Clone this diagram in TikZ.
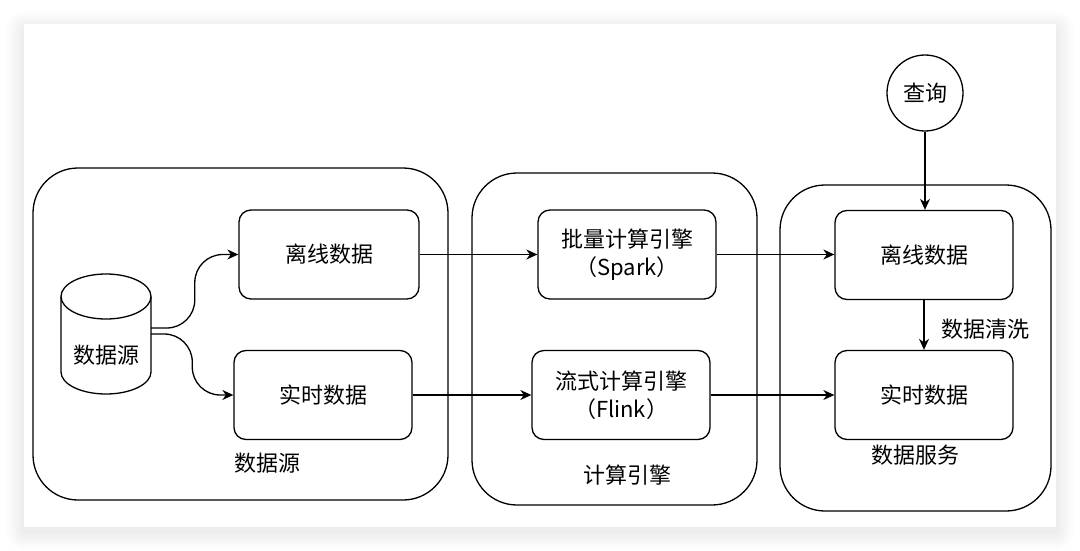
\documentclass[tikz,border=0pt]{standalone}
\usepackage{fontspec}
\setmainfont{Noto Sans CJK SC}
\usetikzlibrary{arrows.meta,calc}
\begin{document}
\begin{tikzpicture}[x=1pt,y=-1pt,
  every node/.style={font=\fontsize{22}{28}\selectfont},
  grp/.style={draw, line width=1.3pt, rounded corners=45pt, inner sep=0pt},
  box/.style={draw, line width=1.3pt, rounded corners=12pt, align=center, inner sep=0pt, minimum height=89pt},
  lbl/.style={inner sep=0pt},
  arr/.style={line width=1.3pt, -{Stealth[length=11pt,width=10pt,inset=3.5pt]}},
  ]
\useasboundingbox (0,0) rectangle (1080,551);
% background and card shadow
\fill[white] (0,0) rectangle (1080,551);
\foreach \i in {1,...,18}{
  \fill[black, opacity=0.005, rounded corners=\i pt] (24-\i,24-\i+5) rectangle (1056+\i,527+\i+5);
}
\fill[white] (24,24) rectangle (1056,527);

% groups
\node[grp, minimum width=415pt, minimum height=332pt] (g1) at (240.5,334) {};
\node[grp, minimum width=285pt, minimum height=332pt] (g2) at (614.5,339) {};
\node[grp, minimum width=271pt, minimum height=326pt] (g3) at (915.5,348) {};

% cylinder
\node[inner sep=0pt, minimum width=90pt, minimum height=120pt] (cyl) at (106,334) {};
\draw[line width=1.3pt] (61,296.5) -- (61,372) arc[start angle=180, end angle=0, x radius=45, y radius=22] -- (151,296.5);
\draw[line width=1.3pt] (106,296.5) ellipse [x radius=45, y radius=22.5];
\node[lbl] (cyltxt) at (106,355) {数据源};

% boxes
\node[box, minimum width=180pt] (so1) at (329,254.5) {离线数据};
\node[box, minimum width=178pt] (so2) at (323,395) {实时数据};
\node[box, minimum width=178pt] (sp) at (627,254.5) {批量计算引擎\\（Spark）};
\node[box, minimum width=178pt] (fl) at (621,395) {流式计算引擎\\（Flink）};
\node[box, minimum width=178pt] (sv1) at (924,255) {离线数据};
\node[box, minimum width=178pt] (sv2) at (924,395) {实时数据};
\node[draw, circle, line width=1.3pt, minimum size=76pt, inner sep=0pt] (q) at (925,93) {查询};

% labels
\node[lbl] (l1) at (267,463) {数据源};
\node[lbl] (l2) at (627,475) {计算引擎};
\node[lbl] (l3) at (915,455) {数据服务};
\node[lbl, anchor=west] (l4) at (941,329) {数据清洗};

% connectors
\coordinate (c1) at ($(cyl.east)+(0,-6)$);
\coordinate (c2) at (cyl.east);
\coordinate (m1) at ($(c1)!0.5!(so1.west)$);
\coordinate (m2) at ($(c2)!0.5!(so2.west)$);
\draw[arr, rounded corners=28pt] (c1) -| (m1 |- so1.west) -- (so1.west);
\draw[arr, rounded corners=28pt] (c2) -| (m2 |- so2.west) -- (so2.west);
\draw[arr] (so1.east) -- (so1.east -| sp.west);
\draw[arr] (so2.east) -- (so2.east -| fl.west);
\draw[arr] (sp.east) -- (sp.east -| sv1.west);
\draw[arr] (fl.east) -- (fl.east -| sv2.west);
\draw[arr] (q.south) -- (q.south |- sv1.north);
\draw[arr] (sv1.south) -- (sv2.north);
\end{tikzpicture}
\end{document}
